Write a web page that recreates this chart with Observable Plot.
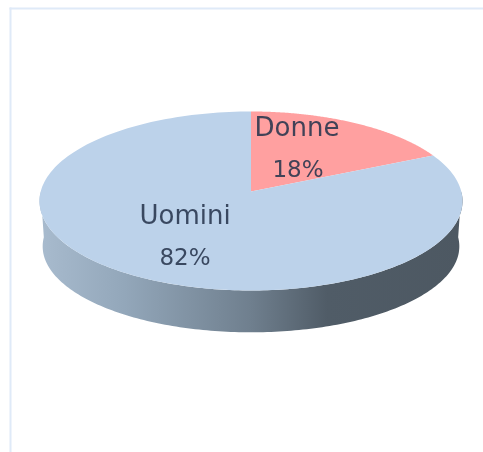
<!DOCTYPE html>
<html>
<head>
<meta charset="utf-8">
<script src="https://cdn.jsdelivr.net/npm/d3@7"></script>
<script src="https://cdn.jsdelivr.net/npm/@observablehq/plot@0.6"></script>
<style>
html,body{margin:0;padding:0;background:#fff}
svg{display:block;filter:blur(0.45px)}
</style>
</head>
<body>
<div id="chart"></div>
<script>
const categories = ["Donne", "Uomini"];
const shares = [18, 82];
const labels = ["18%", "82%"];
const sliceColors = ["#ffa0a0", "#bcd2ea"];

const tilt = 0.105;      // perspective shift of the pie centre
const rimDrop = 0.507;   // rim height in radius units
const rimShrink = 0.985;
const rimFlatten = 0.96;

function project(r, deg) {
  const a = deg * Math.PI / 180, u = r * Math.sin(a), v = r * Math.cos(a), d = 1 + tilt * v;
  return {x: u * Math.sqrt(1 - tilt * tilt) / d, y: (v + tilt) / d};
}
const total = d3.sum(shares);
let start = 0;
const slicePts = [], labelPts = [];
categories.forEach((name, i) => {
  const sweep = shares[i] / total * 360;
  slicePts.push({name, ...project(0, 0)});
  for (let t = 0; t <= 180; t++) slicePts.push({name, ...project(1, start + sweep * t / 180)});
  labelPts.push({name, pct: labels[i], ...project(0.5, start + sweep / 2)});
  start += sweep;
});
const rimPts = [];
for (let t = 90; t <= 270; t++) rimPts.push(project(1, t));
for (let t = 270; t >= 90; t--) {
  const p = project(1, t);
  rimPts.push({x: p.x * rimShrink, y: p.y * rimFlatten - rimDrop});
}

const gradient = () => {
  const ns = "http://www.w3.org/2000/svg";
  const defs = document.createElementNS(ns, "defs");
  const g = document.createElementNS(ns, "linearGradient");
  g.setAttribute("id", "rimShade");
  [[0, "#a8bbce"], [0.2, "#93a7ba"], [0.5, "#6f7f8e"], [0.68, "#505c67"], [1, "#4d5862"]].forEach(([o, c]) => {
    const s = document.createElementNS(ns, "stop");
    s.setAttribute("offset", o);
    s.setAttribute("stop-color", c);
    g.appendChild(s);
  });
  defs.appendChild(g);
  return defs;
};

const font = {fontFamily: "'DejaVu Sans'", fill: "#27344c", fillOpacity: 0.88, stroke: "none"};
const nameFont = {...font, fontSize: 26};
const pctFont = {...font, fontSize: 23};
const one = (name) => labelPts.filter(d => d.name === name);

const chart = Plot.plot({
  width: 483,
  height: 452,
  marginTop: 8,
  marginLeft: 10,
  marginRight: 0,
  marginBottom: 0,
  x: {domain: [-1, 1], range: [39, 462], axis: null},
  y: {domain: [-1, 1], range: [290, 111], axis: null},
  color: {domain: categories, range: sliceColors},
  marks: [
    gradient,
    Plot.frame({anchor: "top", stroke: "#dfeaf8", strokeWidth: 2, strokeOpacity: 1}),
    Plot.frame({anchor: "left", stroke: "#dfeaf8", strokeWidth: 2, strokeOpacity: 1}),
    Plot.line(rimPts, {x: "x", y: "y", fill: "url(#rimShade)", stroke: "none"}),
    Plot.line(slicePts, {x: "x", y: "y", z: "name", fill: "name", stroke: "none"}),
    Plot.text(one("Donne"), {x: "x", y: "y", text: "name", dx: -8, dy: -28, ...nameFont}),
    Plot.text(one("Donne"), {x: "x", y: "y", text: "pct", dx: -7, dy: 14, ...pctFont}),
    Plot.text(one("Uomini"), {x: "x", y: "y", text: "name", dx: -7, dy: -15, ...nameFont}),
    Plot.text(one("Uomini"), {x: "x", y: "y", text: "pct", dx: -7, dy: 27, ...pctFont})
  ]
});
document.getElementById("chart").appendChild(chart);
</script>
</body>
</html>
